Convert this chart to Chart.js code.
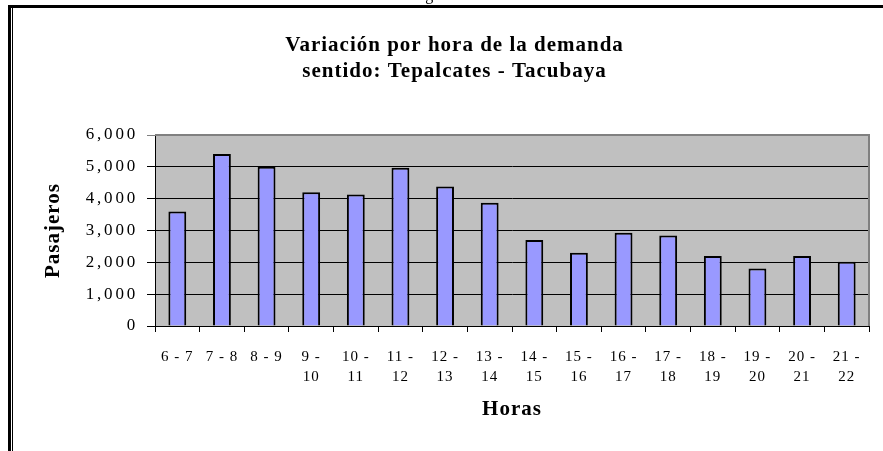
<!DOCTYPE html>
<html>
<head>
<meta charset="utf-8">
<script src="https://cdn.jsdelivr.net/npm/chart.js@4/dist/chart.umd.min.js"></script>
<style>
  html, body { margin: 0; padding: 0; background: #fff; }
  #wrap { position: relative; width: 883px; height: 451px; }
</style>
</head>
<body>
<div id="wrap"><canvas id="chart"></canvas></div>
<script>
const horas = [
  ['6 - 7'], ['7 - 8'], ['8 - 9'], ['9 -', '10'], ['10 -', '11'], ['11 -', '12'],
  ['12 -', '13'], ['13 -', '14'], ['14 -', '15'], ['15 -', '16'], ['16 -', '17'],
  ['17 -', '18'], ['18 -', '19'], ['19 -', '20'], ['20 -', '21'], ['21 -', '22']
];
const pasajeros = [3600, 5400, 5000, 4200, 4130, 4970, 4380, 3870, 2700, 2300, 2930, 2840, 2200, 1810, 2200, 2020];
const yTicks = [0, 1000, 2000, 3000, 4000, 5000, 6000];

const serif = '"Liberation Serif", "Times New Roman", serif';

// the old chart has wide-set text, so spread letters by font size
const spacing = { 21: '1px', 17: '2.8px', 15: '1px' };
const canvas = document.getElementById('chart');
const c2d = canvas.getContext('2d');
const fill = c2d.fillText.bind(c2d);
c2d.fillText = (text, x, y, maxWidth) => {
  const m = c2d.font.match(/(\d+)px/);
  c2d.letterSpacing = (m && spacing[m[1]]) || '0px';
  fill(text, x, y, maxWidth);
};

// page frame, grey plot background and plot border
const frame = {
  id: 'frame',
  beforeDraw(chart) {
    const { ctx, chartArea: a } = chart;
    ctx.save();
    ctx.fillStyle = '#fff';
    ctx.fillRect(0, 0, chart.width, chart.height);
    ctx.fillStyle = '#C0C0C0';
    ctx.fillRect(a.left, a.top, a.right - a.left, a.bottom - a.top);
    ctx.fillStyle = '#000';
    ctx.fillRect(8, 5, chart.width - 8, 3);
    ctx.fillRect(8, 5, 3, chart.height - 5);
    ctx.fillRect(12, 8, 1, chart.height - 8);
    ctx.font = '16px ' + serif;
    ctx.textBaseline = 'alphabetic';
    ctx.fillText('Figura 8', 412, 0);
    ctx.restore();
  },
  afterDatasetsDraw(chart) {
    const { ctx, chartArea: a } = chart;
    ctx.save();
    ctx.strokeStyle = '#808080';
    ctx.lineWidth = 2;
    ctx.beginPath();
    ctx.moveTo(a.left, a.top);
    ctx.lineTo(a.right, a.top);
    ctx.lineTo(a.right, a.bottom);
    ctx.stroke();
    ctx.restore();
  }
};

new Chart(canvas, {
  type: 'bar',
  data: {
    labels: horas,
    datasets: [{
      data: pasajeros,
      backgroundColor: '#9999FF',
      borderColor: '#000',
      borderWidth: 2,
      categoryPercentage: 1,
      barPercentage: 0.4
    }]
  },
  options: {
    responsive: true,
    maintainAspectRatio: false,
    animation: false,
    layout: { padding: { left: 40, right: 14, top: 0, bottom: 0 } },
    plugins: {
      legend: { display: false },
      tooltip: { enabled: false },
      title: {
        display: true,
        text: ['Variación por hora de la demanda', 'sentido: Tepalcates - Tacubaya'],
        color: '#000',
        font: { family: serif, size: 21, weight: 'bold', lineHeight: 26 / 21 },
        padding: { top: 33, bottom: 50 }
      }
    },
    scales: {
      x: {
        afterFit(scale) { scale.height = 125; },
        grid: {
          offset: true,
          drawOnChartArea: false,
          tickLength: 6,
          color: '#000'
        },
        border: { color: '#000', width: 1 },
        ticks: {
          color: '#000',
          padding: 15,
          maxRotation: 0,
          autoSkip: false,
          font: { family: serif, size: 15, lineHeight: 20 / 15 }
        },
        title: {
          display: true,
          text: 'Horas',
          color: '#000',
          font: { family: serif, size: 21, weight: 'bold' },
          padding: { top: 0, bottom: 29 }
        }
      },
      y: {
        min: 0,
        max: 6000,
        afterFit(scale) { scale.width = 115; },
        afterBuildTicks(scale) { scale.ticks = yTicks.map(v => ({ value: v })); },
        grid: {
          tickLength: 8,
          color: ctx => (ctx.tick && ctx.tick.value === 6000 ? '#808080' : '#000'),
          lineWidth: 1
        },
        border: { color: '#000', width: 1 },
        ticks: {
          color: '#000',
          padding: 9,
          font: { family: serif, size: 17 },
          callback: v => v.toLocaleString('en-US')
        },
        title: {
          display: true,
          text: 'Pasajeros',
          color: '#000',
          font: { family: serif, size: 21, weight: 'bold' },
          padding: { top: 1, bottom: 0 }
        }
      }
    }
  },
  plugins: [frame]
});
</script>
</body>
</html>
